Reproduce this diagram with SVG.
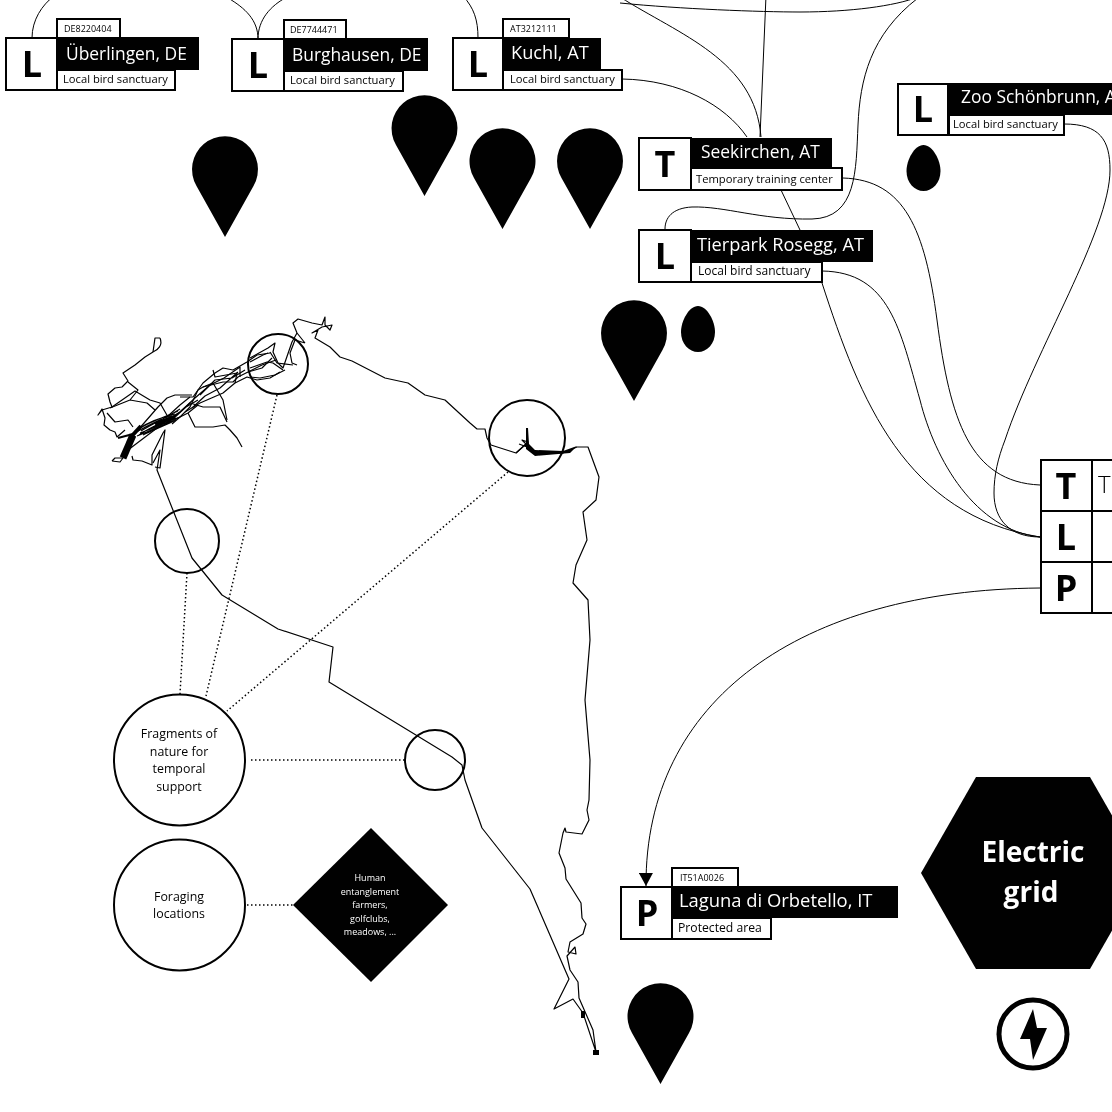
<svg xmlns="http://www.w3.org/2000/svg" xmlns:xlink="http://www.w3.org/1999/xlink" width="1112" height="1112" viewBox="0 0 1112 1112">
<style>
text{font-family:"Open Sans","Noto Sans",sans-serif}
.b{fill:#fff;stroke:#000;stroke-width:2}
.k{fill:#000}
.big{font-size:36px;font-weight:700;text-anchor:middle;fill:#000}
.name{font-size:17.4px;fill:#fff}
.sub{font-size:11.2px;fill:#000}
.code{font-size:9px;fill:#000}
.c{fill:none;stroke:#000;stroke-width:1}
.t{fill:none;stroke:#000;stroke-width:1.2;stroke-linejoin:round}
.d{fill:none;stroke:#000;stroke-width:1.5;stroke-dasharray:1.5 2.5}
.ci{fill:none;stroke:#000;stroke-width:2}
.lab{font-size:12.4px;text-anchor:middle;fill:#000}
.dia{font-size:9px;text-anchor:middle;fill:#fff}
</style>
<defs>
<path id="pin" d="M0,101L-28.5,50A33,33 0 1 1 28.5,50Z"/>
<path id="egg" d="M0,-23C9,-23 17,-8 17,3C17,15 9,23 0,23C-9,23 -17,15 -17,3C-17,-8 -9,-23 0,-23Z"/>
<marker id="arr" markerUnits="userSpaceOnUse" markerWidth="14" markerHeight="14" refX="13" refY="7" orient="auto" viewBox="0 0 14 14"><path d="M0,0L13,7L0,14Z"/></marker>
</defs>
<rect width="1112" height="1112" fill="#fff"/>
<g opacity="0.999">
<g id="connectors">
<path class="c" d="M32,38C32,20 42,5 54,-4"/>
<path class="c" d="M228,-2C245,8 258,20 258,39C258,20 270,6 287,-3"/>
<path class="c" d="M463,-4C474,8 478,20 478,38"/>
<path class="c" d="M622,79C680,80 725,105 747,137"/>
<path class="c" d="M620,-3C680,35 755,60 761,137"/>
<path class="c" d="M766,-4L760,137"/>
<path class="c" d="M620,3C680,9 760,12 800,12C850,12 895,6 918,-3"/>
<path class="c" d="M918,-2C870,35 860,80 858,125C856,170 857,218 812,219C760,220 725,206 692,207C672,208 665,218 665,229"/>
<path class="c" d="M781,190L800,230"/>
<path class="c" d="M822,283C860,400 905,515 1040,537"/>
<path class="c" d="M843,178C905,180 925,230 937,320C950,420 970,482 1040,485"/>
<path class="c" d="M822,271C890,272 900,330 920,400C935,460 975,530 1040,537"/>
<path class="c" d="M1064,124C1100,124 1110,140 1110,170C1110,230 1035,350 1005,440C998,458 994,475 994,493C994,520 1010,537 1040,537"/>
<path class="c" d="M1040,588C800,590 645,700 646,886" marker-end="url(#arr)"/>
<path class="d" d="M277,395L206,696"/>
<path class="d" d="M187,573L180,694"/>
<path class="d" d="M508,472L227,711"/>
<path class="d" d="M251,760L405,760"/>
<path class="d" d="M247,905L293,905"/>
</g>
<g id="track">
<path class="t" d="M297,333L293,323L298,319L312,323L322,325L325,317L325,325L330,330L332,325L322,327L312,333L318,330L315,338L330,347L340,357L352,361L385,378L408,383L425,395L445,400L470,423L477,429L485,429L487,438L491,445L516,453L525,445L533,452L563,453L577,447L588,447L599,477L596,500L583,512L587,540L576,565L573,583L588,600L590,640L585,700L590,760L589,800L587,810L589,820L582,834L566,832L565,828L563,833L559,853L565,868L566,879L581,903L582,918L586,924L583,934L570,942L568,952L576,954L575,947L567,956L570,970L578,982L579,998L593,1030L596,1052L583,1013L573,999L554,1009L569,979L530,889L482,828L465,780L462,765L452,757L329,682L333,647L278,629L222,595L192,558L157,470L160,450L153,463"/>
<path d="M526,428L528,428L529,444L535,450L563,451L577,446L570,453L535,456L526,449Z"/>
<path class="t" d="M516,453L528,442L522,440L531,449M519,444L527,447"/>
<path d="M593,1050h6v5h-6zM581,1011h4v7h-4z"/>
<path class="t" d="M160,338C163,345 158,350 153,352L145,357L135,365L123,373L128,381L122,387L115,388L108,394L110,402L112,407L102,410L98,415L102,409L105,418L104,425L110,430L115,432L117,437L125,430"/>
<path class="t" d="M160,338L155,338L153,352"/>
<path class="t" d="M112,407L135,391L150,400L160,403L168,417"/>
<path class="t" d="M128,382L138,390L130,400L110,408M130,400L147,403L155,410"/>
<path class="t" d="M107,413L115,422L128,420L133,427"/>
<path d="M123,458L133,435" fill="none" stroke="#000" stroke-width="7"/>
<path d="M130,438L141,426" fill="none" stroke="#000" stroke-width="4"/>
<path d="M118,438L133,434" fill="none" stroke="#000" stroke-width="2"/>
<path class="t" d="M112,461L115,458L123,458L120,462L112,461M132,456L133,460L142,461L152,465L152,455L163,433L165,430L160,468L155,467"/>
<path class="t" d="M128,450L165,422"/>
<path class="t" d="M138,430L158,407L167,398L175,395L192,395"/>
<path class="t" d="M136,432C150,425 160,418 172,416M138,429C150,421 162,417 175,414M139,435C152,426 165,421 176,418M142,427C155,420 165,417 178,411M140,433C155,428 165,422 180,417M145,431C158,426 168,420 178,414M137,436C150,431 160,426 172,421M141,431C154,423 166,418 180,409M143,435C156,429 168,424 176,420"/>
<path d="M155,424L174,417" fill="none" stroke="#000" stroke-width="3.500"/>
<path class="t" d="M170,420L180,412L195,398M168,416L180,405L190,397M172,421L188,413L198,405M174,418L186,407L198,400"/>
<path class="t" d="M180,397L193,397L203,383L215,373L223,368L233,370L247,362L257,355L270,353"/>
<path class="t" d="M172,424L180,417L190,407L198,390L203,387L223,382L233,382L238,377L248,372L262,365L276,360"/>
<path class="t" d="M170,418L180,412L190,403L203,407L220,407L227,422"/>
<path class="t" d="M188,413L195,427L213,427L225,425L230,430L237,438L242,447"/>
<path class="t" d="M203,387L213,383L223,400L227,420"/>
<path class="t" d="M213,370L215,377L237,373L235,383L247,377L257,380L270,378L280,372"/>
<path class="t" d="M185,412L200,403L223,393L235,383M195,398L210,385L224,378L240,367L240,377"/>
<path class="t" d="M200,395L215,380L232,378L245,370M192,408L205,396L220,388L238,372"/>
<path class="t" d="M297,333L305,343M305,343L295,340L290,353L292,363L297,365"/>
<path class="t" d="M297,333L292,342L283,368L278,363L273,352L275,343L268,348L250,358"/>
<path class="t" d="M270,352L277,363L293,365"/>
<path class="t" d="M250,368L267,362L273,363L283,370"/>
<path class="t" d="M250,377L260,378L275,375L285,370"/>
<path class="t" d="M250,362L263,355L268,353M248,372L262,368L272,358"/>
</g>
<g id="ring-1"><circle class="ci" cx="278" cy="364" r="30"/></g>
<g id="ring-2"><circle class="ci" cx="527" cy="438" r="38"/></g>
<g id="ring-3"><circle class="ci" cx="187" cy="541" r="32"/></g>
<g id="ring-4"><circle class="ci" cx="435" cy="760" r="30"/></g>
<g id="fragments"><circle class="ci" cx="179.500" cy="760" r="65.500"/>
<text class="lab" x="179" y="738">Fragments of</text><text class="lab" x="179" y="756">nature for</text><text class="lab" x="179" y="773">temporal</text><text class="lab" x="179" y="791">support</text></g>
<g id="foraging"><circle class="ci" cx="179.500" cy="905" r="65.500"/>
<text class="lab" x="179" y="901">Foraging</text><text class="lab" x="179" y="918">locations</text></g>
<g id="human"><path class="k" d="M371,828L448,905L371,982L293,905Z"/>
<text class="dia" x="370" y="881">Human</text><text class="dia" x="370" y="895">entanglement</text><text class="dia" x="370" y="908">farmers,</text><text class="dia" x="370" y="922">golfclubs,</text><text class="dia" x="370" y="935">meadows, ...</text></g>
<g id="pins">
<use xlink:href="#pin" href="#pin" x="225" y="136"/>
<use xlink:href="#pin" href="#pin" x="424.500" y="95"/>
<use xlink:href="#pin" href="#pin" x="502.500" y="128"/>
<use xlink:href="#pin" href="#pin" x="590" y="128"/>
<use xlink:href="#pin" href="#pin" x="634" y="300"/>
<use xlink:href="#pin" href="#pin" x="660.500" y="983"/>
<use xlink:href="#egg" href="#egg" x="923.500" y="168"/>
<use xlink:href="#egg" href="#egg" x="698" y="329"/>
</g>
<g id="uberlingen">
<rect class="b" x="57" y="19" width="63" height="19"/>
<text class="code" x="64" y="32">DE8220404</text>
<rect class="b" x="6" y="38" width="51" height="52"/><text class="big" x="32" y="77">L</text>
<rect class="k" x="57" y="37" width="142" height="33"/><text class="name" x="66" y="60">Überlingen, DE</text>
<rect class="b" x="57" y="70" width="118" height="20"/><text class="sub" x="63" y="83">Local bird sanctuary</text>
</g>
<g id="burghausen">
<rect class="b" x="284" y="20" width="62" height="19"/>
<text class="code" x="290" y="33">DE7744471</text>
<rect class="b" x="232" y="39" width="52" height="52"/><text class="big" x="258" y="78">L</text>
<rect class="k" x="284" y="38" width="144" height="33"/><text class="name" x="292" y="61">Burghausen, DE</text>
<rect class="b" x="284" y="71" width="119" height="20"/><text class="sub" x="290" y="84">Local bird sanctuary</text>
</g>
<g id="kuchl">
<rect class="b" x="503" y="19" width="66" height="19"/>
<text class="code" x="510" y="32">AT3212111</text>
<rect class="b" x="453" y="38" width="50" height="52"/><text class="big" x="478" y="77">L</text>
<rect class="k" x="503" y="38" width="98" height="32"/><text class="name" x="511" y="59" style="font-size:18.2px">Kuchl, AT</text>
<rect class="b" x="503" y="70" width="119" height="20"/><text class="sub" x="510" y="83">Local bird sanctuary</text>
</g>
<g id="seekirchen">
<rect class="b" x="639" y="138" width="52" height="52"/><text class="big" x="665" y="177">T</text>
<rect class="k" x="691" y="138" width="141" height="29"/><text class="name" x="701" y="158">Seekirchen, AT</text>
<rect class="b" x="691" y="168" width="151" height="22"/><text class="sub" x="696" y="183">Temporary training center</text>
</g>
<g id="tierpark">
<rect class="b" x="639" y="230" width="52" height="52"/><text class="big" x="665" y="269">L</text>
<rect class="k" x="691" y="230" width="182" height="32"/><text class="name" x="697" y="251" style="font-size:18.2px">Tierpark Rosegg, AT</text>
<rect class="b" x="691" y="262" width="131" height="20"/><text class="sub" x="698" y="275" style="font-size:12px">Local bird sanctuary</text>
</g>
<g id="zoo">
<rect class="b" x="898" y="84" width="50" height="51"/><text class="big" x="923" y="122">L</text>
<rect class="k" x="948" y="83" width="165" height="32"/><text class="name" x="961" y="103">Zoo Schönbrunn, AT</text>
<rect class="b" x="949" y="115" width="115" height="20"/><text class="sub" x="953" y="128">Local bird sanctuary</text>
</g>
<g id="legend">
<rect class="b" x="1041" y="460" width="51" height="51"/><text class="big" x="1066" y="499">T</text>
<rect class="b" x="1092" y="460" width="40" height="51"/><text x="1098" y="493" font-size="24" font-weight="300" fill="#000">T</text>
<rect class="b" x="1041" y="511" width="51" height="51"/><text class="big" x="1066" y="550">L</text>
<rect class="b" x="1092" y="511" width="40" height="51"/>
<rect class="b" x="1041" y="562" width="51" height="51"/><text class="big" x="1066" y="601">P</text>
<rect class="b" x="1092" y="562" width="40" height="51"/>
</g>
<g id="laguna">
<rect class="b" x="672" y="868" width="66" height="19"/>
<text class="code" x="680" y="881">IT51A0026</text>
<rect class="b" x="621" y="887" width="51" height="52"/><text class="big" x="647" y="926">P</text>
<rect class="k" x="672" y="886" width="226" height="32"/><text class="name" x="679" y="907" style="font-size:18.4px">Laguna di Orbetello, IT</text>
<rect class="b" x="672" y="918" width="99" height="21"/><text class="sub" x="678" y="932" style="font-size:12.2px">Protected area</text>
</g>
<g id="electric">
<path class="k" d="M921,873L976,777L1090,777L1145,873L1090,969L976,969Z"/>
<text x="1033" y="862" font-size="28" font-weight="700" text-anchor="middle" fill="#fff">Electric</text>
<text x="1031" y="902" font-size="28" font-weight="700" text-anchor="middle" fill="#fff">grid</text>
<circle cx="1033" cy="1034" r="34" fill="none" stroke="#000" stroke-width="5"/>
<path class="k" d="M1033,1009L1020,1039L1030,1039L1033,1060L1047,1028L1037,1028L1033,1009Z"/>
</g>
</g>
</svg>
